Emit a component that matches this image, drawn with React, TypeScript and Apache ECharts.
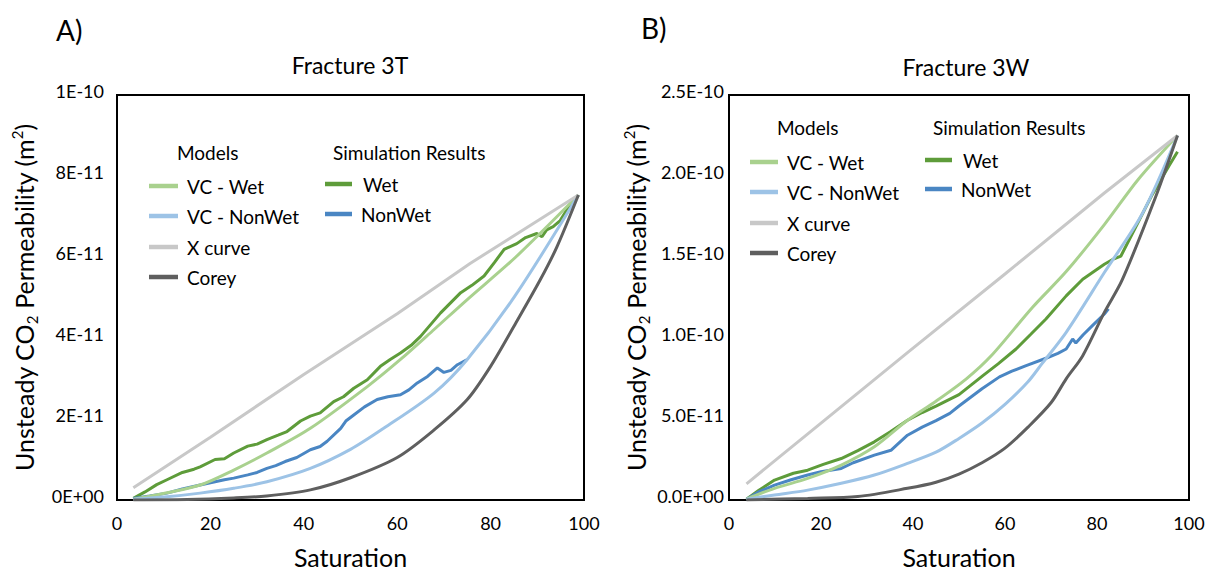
import React, { useEffect, useRef } from "react";
import * as echarts from "echarts";

const FONT = "Lato, 'Open Sans', sans-serif";

// ---------- tick labels ----------
const yTickLabelsA = ["0E+00", "2E-11", "4E-11", "6E-11", "8E-11", "1E-10"];
const yTickLabelsB = ["0.0E+00", "5.0E-11", "1.0E-10", "1.5E-10", "2.0E-10", "2.5E-10"];

// ---------- Panel A: Fracture 3T (permeability in units of 1E-11 m²) ----------
const aXCurve = [[3.5, 0.3], [20, 1.55], [40, 3.1], [60, 4.6], [75.6, 5.84], [98.8, 7.53]];
const aVCWet = [[3.5, 0.02], [10.7, 0.18], [17.8, 0.37], [25, 0.74], [32.1, 1.16], [41.4, 1.77], [53.6, 2.8], [60.7, 3.47], [67.9, 4.21], [75, 4.95], [85.4, 6.0], [98.8, 7.53]];
const aVCNonWet = [[3.5, 0.02], [10.7, 0.08], [17.8, 0.17], [25, 0.29], [32.1, 0.45], [41.4, 0.78], [50, 1.25], [57.1, 1.77], [67.9, 2.64], [75, 3.47], [85.4, 5.07], [98.8, 7.53]];
const aCorey = [[3.5, 0], [15, 0.01], [25, 0.05], [32, 0.1], [41.4, 0.25], [50, 0.55], [60, 1.05], [67.9, 1.73], [75, 2.48], [80, 3.3], [85.4, 4.37], [90.6, 5.43], [94.2, 6.25], [98.8, 7.53]];
const aWet = [[3.5, 0.04], [6, 0.2], [8.5, 0.38], [10.7, 0.5], [14, 0.68], [16.5, 0.76], [17.8, 0.82], [21, 1.0], [23, 1.02], [25, 1.16], [28, 1.33], [30, 1.38], [32.1, 1.49], [34.5, 1.6], [36.4, 1.69], [39.3, 1.95], [41.4, 2.07], [43.5, 2.15], [46.4, 2.43], [48.5, 2.55], [50.7, 2.76], [53.6, 2.97], [56.4, 3.3], [58.5, 3.47], [60.7, 3.63], [63, 3.82], [65, 4.04], [69.3, 4.62], [73.6, 5.12], [76, 5.3], [78.6, 5.53], [80.8, 5.86], [82.9, 6.19], [85.6, 6.33], [87.5, 6.48], [89.9, 6.58], [91, 6.5], [92, 6.67], [93.4, 6.75], [94.9, 6.9], [96.3, 7.16], [98.8, 7.53]];
const aNonWet = [[3.5, 0.04], [7, 0.1], [10.7, 0.17], [14, 0.27], [17.8, 0.37], [21, 0.45], [23, 0.5], [25, 0.54], [28, 0.62], [30, 0.68], [32.1, 0.78], [34, 0.85], [36, 0.95], [38.5, 1.05], [41.4, 1.24], [43.5, 1.32], [45, 1.45], [47.9, 1.77], [49, 1.95], [50.7, 2.1], [53, 2.3], [55.7, 2.48], [58, 2.55], [60.7, 2.6], [62.5, 2.72], [64.3, 2.89], [66.5, 3.05], [68.6, 3.26], [70, 3.15], [71.5, 3.2], [72.9, 3.34], [75, 3.47]];

// ---------- Panel B: Fracture 3W (permeability in units of 1E-11 m²) ----------
const bXCurve = [[3.8, 1.0], [20, 4.75], [38.8, 9.1], [60, 13.95], [81.6, 18.95], [97.5, 22.5]];
const bVCWet = [[3.8, 0.05], [9.9, 0.72], [17.1, 1.33], [24.4, 2.15], [31.6, 3.28], [38.8, 4.92], [45, 6.1], [51.6, 7.48], [57, 8.9], [66, 11.9], [73.3, 14.1], [81.6, 17.0], [89, 19.8], [97.5, 22.5]];
const bVCNonWet = [[3.8, 0.05], [9.9, 0.31], [17.1, 0.61], [24.4, 1.03], [31.6, 1.54], [38.8, 2.26], [45, 2.95], [50, 3.8], [55, 4.75], [60, 5.9], [65, 7.3], [68, 8.4], [73.3, 10.35], [81.6, 14.04], [89.9, 17.7], [97.5, 22.5]];
const bCorey = [[3.8, 0], [17.1, 0.1], [28, 0.21], [38.8, 0.72], [45, 1.1], [50, 1.6], [55, 2.3], [60, 3.2], [65, 4.5], [70, 6.0], [73.3, 7.48], [76.9, 8.91], [81.6, 11.58], [85.5, 13.6], [92.8, 18.75], [97.5, 22.5]];
const bWet = [[3.8, 0.05], [6.5, 0.6], [9.9, 1.23], [14, 1.65], [17.1, 1.84], [20.5, 2.2], [24.4, 2.56], [28, 3.05], [31.6, 3.59], [35, 4.2], [38.8, 4.92], [42, 5.4], [45, 5.8], [50, 6.5], [55.2, 7.68], [58.5, 8.4], [62.4, 9.32], [65.5, 10.2], [68.9, 11.17], [73.3, 12.6], [76.9, 13.63], [81.6, 14.55], [83.4, 14.85], [85.2, 15.06], [88.5, 16.9], [92, 18.85], [95.6, 20.6], [97.5, 21.5]];
const bNonWet = [[3.8, 0.05], [6.5, 0.5], [9.9, 0.92], [13.5, 1.25], [17.1, 1.54], [20, 1.75], [24.4, 1.95], [27, 2.3], [31.6, 2.77], [35.2, 3.07], [38.8, 4.0], [42, 4.5], [45, 4.9], [48, 5.35], [50, 5.8], [55, 6.87], [58.8, 7.6], [61.5, 7.95], [64.6, 8.3], [68.9, 8.75], [71.5, 9.05], [73.3, 9.32], [74.7, 9.94], [75.4, 9.69], [77, 10.2], [79, 10.76], [81.6, 11.48], [82.5, 11.8]];

// ---------- colours ----------
const C_VCWET = "#a9d18e";
const C_VCNONWET = "#9dc3e6";
const C_XCURVE = "#c8c8c8";
const C_COREY = "#5f5f5f";
const C_WET = "#5e9c3a";
const C_NONWET = "#4a86c3";

function series(name: string, data: number[][], color: string, idx: number, smooth: number | false, z: number) {
  return {
    type: "line",
    name,
    data,
    xAxisIndex: idx,
    yAxisIndex: idx,
    showSymbol: false,
    symbol: "none",
    smooth,
    lineStyle: { color, width: 3 },
    itemStyle: { color },
    z,
  };
}

function txt(x: number, y: number, text: string, size: number, align = "left") {
  return {
    type: "text",
    x,
    y,
    style: {
      text,
      fill: "#000",
      fontSize: size,
      fontFamily: FONT,
      align,
      verticalAlign: "middle",
      textAlign: align,
      textVerticalAlign: "middle",
    },
  };
}

function seg(x1: number, x2: number, y: number, color: string) {
  return {
    type: "line",
    shape: { x1, y1: y, x2, y2: y },
    style: { stroke: color, lineWidth: 4.5 },
  };
}

function xAxis(idx: number) {
  return {
    type: "value",
    gridIndex: idx,
    min: 0,
    max: 100,
    interval: 20,
    name: "Saturation",
    nameLocation: "middle",
    nameGap: 44,
    nameTextStyle: { fontSize: 25, fontFamily: FONT, color: "#000" },
    axisLine: { show: false },
    axisTick: { show: false },
    splitLine: { show: false },
    axisLabel: { fontSize: 18, fontFamily: FONT, color: "#000", margin: 14 },
  };
}

function yAxis(idx: number, max: number, interval: number, labels: string[], margin: number) {
  return {
    type: "value",
    gridIndex: idx,
    min: 0,
    max,
    interval,
    name: "Unsteady CO{sub|2} Permeability (m{sup|2})",
    nameLocation: "middle",
    nameGap: 78,
    nameTextStyle: {
      fontSize: 25,
      fontFamily: FONT,
      color: "#000",
      lineHeight: 30,
      rich: {
        sub: { fontSize: 15, fontFamily: FONT, color: "#000", lineHeight: 16, verticalAlign: "bottom" },
        sup: { fontSize: 15, fontFamily: FONT, color: "#000", lineHeight: 16, verticalAlign: "top" },
      },
    },
    axisLine: { show: false },
    axisTick: { show: false },
    splitLine: { show: false },
    axisLabel: {
      fontSize: 18,
      fontFamily: FONT,
      color: "#000",
      margin,
      verticalAlign: "bottom",
      lineHeight: 9,
      formatter: (v: number) => labels[Math.round(v / interval)],
    },
  };
}

export default function App() {
  const ref = useRef<HTMLDivElement>(null);
  useEffect(() => {
    document.body.style.margin = "0";
    if (!ref.current) return;
    const chart = echarts.init(ref.current, undefined, { renderer: "svg" });
    const option = {
      animation: false,
      backgroundColor: "#fff",
      grid: [
        { left: 117, right: 1215 - 584, top: 95, bottom: 73, show: true, borderColor: "#000", borderWidth: 2, backgroundColor: "transparent" },
        { left: 729, right: 1215 - 1189, top: 95, bottom: 73, show: true, borderColor: "#000", borderWidth: 2, backgroundColor: "transparent" },
      ],
      xAxis: [xAxis(0), xAxis(1)],
      yAxis: [yAxis(0, 10, 2, yTickLabelsA, 13), yAxis(1, 25, 5, yTickLabelsB, 5)],
      series: [
        series("Wet", aWet, C_WET, 0, false, 2),
        series("NonWet", aNonWet, C_NONWET, 0, false, 2),
        series("VC - Wet", aVCWet, C_VCWET, 0, 0.3, 3),
        series("VC - NonWet", aVCNonWet, C_VCNONWET, 0, 0.3, 3),
        series("X curve", aXCurve, C_XCURVE, 0, false, 3),
        series("Corey", aCorey, C_COREY, 0, 0.3, 3),
        series("Wet", bWet, C_WET, 1, false, 2),
        series("NonWet", bNonWet, C_NONWET, 1, false, 2),
        series("VC - Wet", bVCWet, C_VCWET, 1, 0.3, 3),
        series("VC - NonWet", bVCNonWet, C_VCNONWET, 1, 0.3, 3),
        series("X curve", bXCurve, C_XCURVE, 1, false, 3),
        series("Corey", bCorey, C_COREY, 1, 0.3, 3),
      ],
      graphic: [
        txt(56, 30, "A)", 28),
        txt(641, 28, "B)", 28),
        txt(350, 65, "Fracture 3T", 23, "center"),
        txt(966, 67, "Fracture 3W", 23, "center"),
        // Panel A legend
        txt(177, 152, "Models", 19),
        txt(333, 152, "Simulation Results", 19),
        seg(149, 178, 186, C_VCWET), txt(187, 186, "VC - Wet", 19),
        seg(149, 178, 216, C_VCNONWET), txt(187, 216, "VC - NonWet", 19),
        seg(149, 178, 247, C_XCURVE), txt(187, 247, "X curve", 19),
        seg(149, 178, 277, C_COREY), txt(187, 277, "Corey", 19),
        seg(325, 352, 184, C_WET), txt(363, 184, "Wet", 19),
        seg(325, 352, 214, C_NONWET), txt(361, 214, "NonWet", 19),
        // Panel B legend
        txt(777, 127, "Models", 19),
        txt(933, 127, "Simulation Results", 19),
        seg(750, 778, 162, C_VCWET), txt(787, 162, "VC - Wet", 19),
        seg(750, 778, 192, C_VCNONWET), txt(787, 192, "VC - NonWet", 19),
        seg(750, 778, 223, C_XCURVE), txt(787, 223, "X curve", 19),
        seg(750, 778, 253, C_COREY), txt(787, 253, "Corey", 19),
        seg(925, 952, 160, C_WET), txt(963, 160, "Wet", 19),
        seg(925, 952, 189, C_NONWET), txt(961, 189, "NonWet", 19),
      ],
    };
    chart.setOption(option as any);
    return () => chart.dispose();
  }, []);
  return <div ref={ref} style={{ width: 1215, height: 574 }} />;
}
